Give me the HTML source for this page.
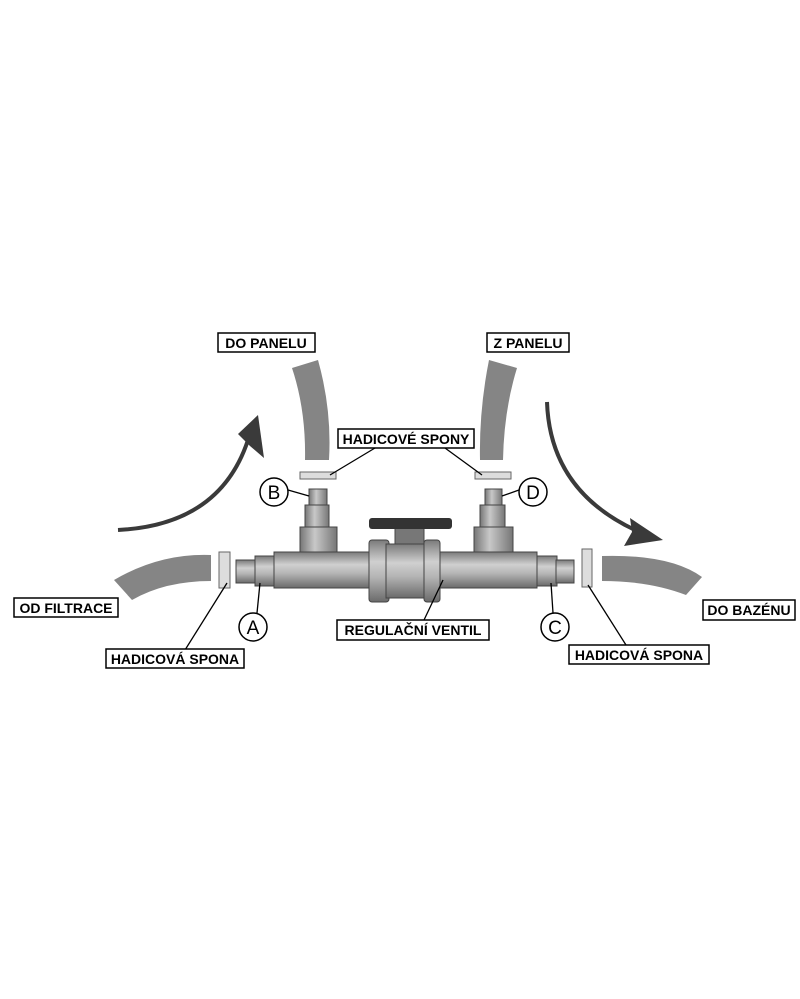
<!DOCTYPE html>
<html><head><meta charset="utf-8"><style>
html,body{margin:0;padding:0;background:#fff}
svg{display:block}
text{font-family:"Liberation Sans",sans-serif;font-weight:bold;font-size:14px;fill:#000}
.lb{fill:#fff;stroke:#000;stroke-width:1.5}
</style></head><body>
<svg width="800" height="999" viewBox="0 0 800 999">
<defs>
<linearGradient id="pg" x1="0" y1="0" x2="0" y2="1">
<stop offset="0" stop-color="#7a7a7a"/><stop offset="0.35" stop-color="#d0d0d0"/><stop offset="0.6" stop-color="#b4b4b4"/><stop offset="1" stop-color="#6a6a6a"/></linearGradient>
<linearGradient id="vg" x1="0" y1="0" x2="1" y2="0">
<stop offset="0" stop-color="#767676"/><stop offset="0.4" stop-color="#c8c8c8"/><stop offset="1" stop-color="#767676"/></linearGradient>
</defs>
<path d="M292,368 L318,360 Q332,410 329,460 L305,460 Q306,410 292,368Z" fill="#858585"/>
<path d="M489,360 L517,368 Q504,410 503,460 L480,460 Q479,410 489,360Z" fill="#858585"/>
<path d="M114,580 Q160,553 211,555 L211,581 Q165,581 132,600Z" fill="#858585"/>
<path d="M602,556 Q670,554 702,577 L686,595 Q650,581 602,581Z" fill="#858585"/>
<rect x="300" y="472" width="36" height="7" fill="#ddd" stroke="#666"/>
<rect x="475" y="472" width="36" height="7" fill="#ddd" stroke="#666"/>
<rect x="219" y="552" width="11" height="36" fill="#ddd" stroke="#666"/>
<rect x="582" y="549" width="10" height="38" fill="#ddd" stroke="#666"/>
<path d="M118,530 Q220,525 248,440" fill="none" stroke="#3a3a3a" stroke-width="4"/>
<path d="M258,415 L264,458 L250,446 L238,434Z" fill="#3a3a3a"/>
<path d="M547,402 Q550,490 635,530" fill="none" stroke="#3a3a3a" stroke-width="4"/>
<path d="M663,540 L624,546 L632,532 L630,518Z" fill="#3a3a3a"/>
<rect x="309" y="489" width="18" height="17" fill="url(#vg)" stroke="#444"/>
<rect x="305" y="505" width="24" height="22" fill="url(#vg)" stroke="#444"/>
<rect x="300" y="527" width="37" height="27" fill="url(#vg)" stroke="#444"/>
<rect x="485" y="489" width="17" height="17" fill="url(#vg)" stroke="#444"/>
<rect x="480" y="505" width="25" height="22" fill="url(#vg)" stroke="#444"/>
<rect x="474" y="527" width="39" height="27" fill="url(#vg)" stroke="#444"/>
<rect x="236" y="560" width="20" height="23" fill="url(#pg)" stroke="#444"/>
<rect x="255" y="556" width="20" height="30" fill="url(#pg)" stroke="#444"/>
<rect x="274" y="552" width="263" height="36" fill="url(#pg)" stroke="#444"/>
<rect x="537" y="556" width="20" height="30" fill="url(#pg)" stroke="#444"/>
<rect x="556" y="560" width="18" height="23" fill="url(#pg)" stroke="#444"/>
<rect x="395" y="526" width="29" height="20" fill="#777" stroke="#444"/>
<rect x="369" y="518" width="83" height="11" rx="3" fill="#333"/>
<rect x="369" y="540" width="20" height="62" rx="3" fill="url(#pg)" stroke="#444"/>
<rect x="386" y="544" width="40" height="54" fill="url(#pg)" stroke="#444"/>
<rect x="424" y="540" width="16" height="62" rx="3" fill="url(#pg)" stroke="#444"/>
<g stroke="#000" stroke-width="1.3" fill="none">
<line x1="288" y1="490" x2="309" y2="496"/><line x1="519" y1="490" x2="502" y2="496"/>
<line x1="257" y1="613" x2="260" y2="583"/><line x1="553" y1="613" x2="551" y2="583"/>
<line x1="185" y1="650" x2="227" y2="583"/><line x1="626" y1="645" x2="588" y2="585"/>
<line x1="375" y1="448" x2="330" y2="475"/><line x1="445" y1="448" x2="482" y2="475"/>
<line x1="424" y1="620" x2="443" y2="580"/>
</g>
<g fill="#fff" stroke="#000" stroke-width="1.5">
<circle cx="274" cy="492" r="14"/><circle cx="533" cy="492" r="14"/>
<circle cx="253" cy="627" r="14"/><circle cx="555" cy="627" r="14"/>
</g>
<g text-anchor="middle">
<text x="274" y="499" style="font-size:19px;font-weight:normal">B</text><text x="533" y="499" style="font-size:19px;font-weight:normal">D</text>
<text x="253" y="634" style="font-size:19px;font-weight:normal">A</text><text x="555" y="634" style="font-size:19px;font-weight:normal">C</text>
</g>
<rect class="lb" x="218" y="333" width="97" height="19"/><text x="266" y="348" text-anchor="middle">DO PANELU</text>
<rect class="lb" x="487" y="333" width="82" height="19"/><text x="528" y="348" text-anchor="middle">Z PANELU</text>
<rect class="lb" x="338" y="429" width="136" height="19"/><text x="406" y="444" text-anchor="middle">HADICOVÉ SPONY</text>
<rect class="lb" x="14" y="598" width="104" height="19"/><text x="66" y="613" text-anchor="middle">OD FILTRACE</text>
<rect class="lb" x="106" y="649" width="138" height="19"/><text x="175" y="664" text-anchor="middle">HADICOVÁ SPONA</text>
<rect class="lb" x="337" y="620" width="152" height="20"/><text x="413" y="635" text-anchor="middle">REGULAČNÍ VENTIL</text>
<rect class="lb" x="569" y="645" width="140" height="19"/><text x="639" y="660" text-anchor="middle">HADICOVÁ SPONA</text>
<rect class="lb" x="703" y="600" width="92" height="20"/><text x="749" y="615" text-anchor="middle">DO BAZÉNU</text>
</svg>
</body></html>
